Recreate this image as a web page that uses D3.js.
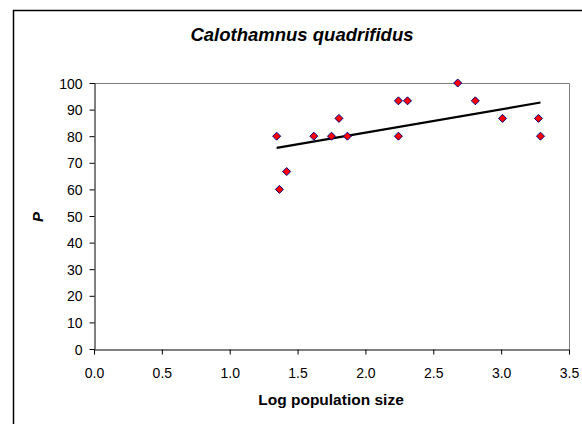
<!DOCTYPE html>
<html><head><meta charset="utf-8">
<script src="https://cdn.jsdelivr.net/npm/d3@7"></script>
<style>body{margin:0;background:#fff}svg{display:block;font-family:"Liberation Sans",Arial,sans-serif}</style>
</head><body><svg id="c" width="582" height="424"></svg>
<script>
const logSize = [1.346,1.366,1.42,1.62,1.75,1.805,1.867,2.243,2.243,2.31,2.68,2.81,3.01,3.275,3.29];
const pValues = [80,60,66.7,80,80,86.7,80,93.3,80,93.3,100,93.3,86.7,86.7,80];
const xTicks = [0,0.5,1,1.5,2,2.5,3,3.5];
const yTicks = [0,10,20,30,40,50,60,70,80,90,100];
const title = "Calothamnus quadrifidus";
const xTitle = "Log population size";
const yTitle = "P";

const svg = d3.select("#c");
const L=94, R=569, T=83, B=349;
const x = d3.scaleLinear().domain([0,3.5]).range([L,R]);
const y = d3.scaleLinear().domain([0,100]).range([B,T]);

// outer chart frame
svg.append("path").attr("d","M13.5,600 V10.5 H700").attr("fill","none").attr("stroke","#000").attr("stroke-width",1.5);

// plot area border (gray)
svg.append("path").attr("d",`M${L},${T+0.5} H${R+0.5} V${B}`).attr("fill","none").attr("stroke","#808080").attr("stroke-width",1);

const xa = svg.append("g").attr("transform",`translate(0,${B+0.5})`)
  .call(d3.axisBottom(x).tickValues(xTicks).tickFormat(d3.format(".1f")).tickSize(5).tickSizeOuter(0));
const ya = svg.append("g").attr("transform",`translate(${L+0.5},0)`)
  .call(d3.axisLeft(y).tickValues(yTicks).tickSize(5).tickSizeOuter(0));
[xa,ya].forEach(g=>{g.select(".domain").attr("stroke","#000");g.selectAll(".tick line").attr("stroke","#000");
  g.selectAll("text").attr("font-size",14).attr("fill","#000").attr("font-family","'Liberation Sans',Arial,sans-serif");});
xa.selectAll("text").attr("dy",null).attr("y",28.5);
ya.selectAll("text").attr("x",-12).attr("dy","0.36em");

// regression trendline
const n=logSize.length, mx=d3.mean(logSize), my=d3.mean(pValues);
let sxy=0,sxx=0; for(let i=0;i<n;i++){sxy+=(logSize[i]-mx)*(pValues[i]-my);sxx+=(logSize[i]-mx)**2;}
const slope=sxy/sxx, icpt=my-slope*mx;
const [x0,x1]=d3.extent(logSize);
svg.append("line").attr("x1",x(x0)).attr("y1",y(icpt+slope*x0)).attr("x2",x(x1)).attr("y2",y(icpt+slope*x1))
  .attr("stroke","#000").attr("stroke-width",2.2);

// markers
svg.append("g").selectAll("path").data(logSize).join("path")
  .attr("transform",(d,i)=>`translate(${x(d)},${y(pValues[i])})`)
  .attr("d","M0,-4 L4,0 L0,4 L-4,0 Z").attr("fill","#ff0000").attr("stroke","#000080").attr("stroke-width",1);

svg.append("text").attr("x",302).attr("y",41).attr("text-anchor","middle").attr("font-size",18.5)
  .attr("font-weight","bold").attr("font-style","italic").text(title);
svg.append("text").attr("x",331).attr("y",405).attr("text-anchor","middle").attr("font-size",15.5)
  .attr("font-weight","bold").text(xTitle);
svg.append("text").attr("transform","translate(43,217) rotate(-90)").attr("text-anchor","middle").attr("font-size",15)
  .attr("font-weight","bold").attr("font-style","italic").text(yTitle);
</script></body></html>
